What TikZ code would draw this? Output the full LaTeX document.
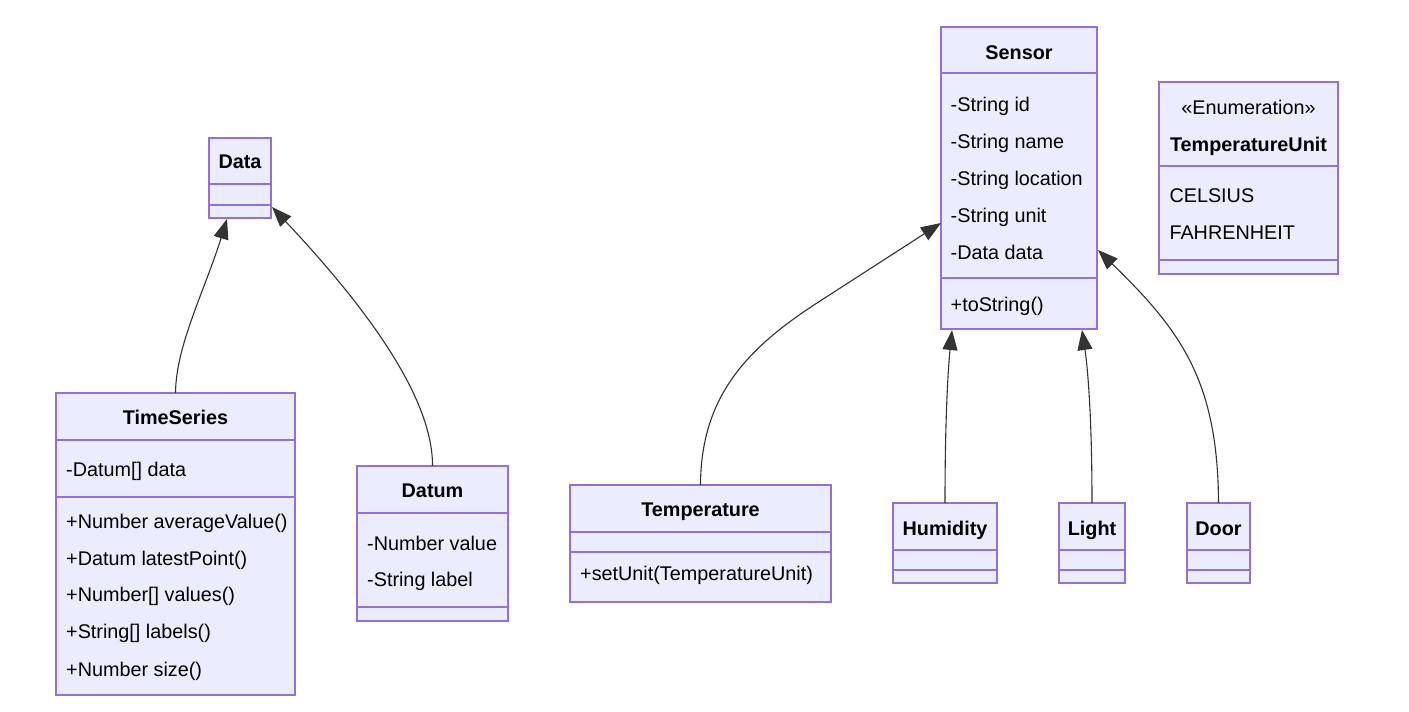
\documentclass[tikz,border=0pt]{standalone}
\usepackage{fontspec}
\setmainfont{Liberation Sans}
\usetikzlibrary{arrows.meta}
\definecolor{clsfill}{HTML}{ECECFF}
\definecolor{clsdraw}{HTML}{9370DB}
\definecolor{edgecol}{HTML}{333333}
\tikzset{
  cls/.style={draw=clsdraw, fill=clsfill, line width=1.3pt, inner sep=0pt, outer sep=0pt},
  sepline/.style={draw=clsdraw, line width=1.3pt},
  mem/.style={inner sep=0pt, anchor=base west, font=\fontsize{19.8}{24}\selectfont, text=black},
  ttl/.style={inner sep=0pt, anchor=base, font=\bfseries\fontsize{19.8}{24}\selectfont, text=black},
  inh/.style={draw=edgecol, line width=1.1pt, -{Triangle[length=20pt,width=15pt]}}
}
\begin{document}
\begin{tikzpicture}[x=1pt,y=-1pt]
\useasboundingbox[fill=white] (0,0) rectangle (1409,712);

% ---------- Data ----------
\node[cls, minimum width=62pt, minimum height=80pt] (data) at (240,178) {};
\draw[sepline] (209,184) -- (271,184);
\draw[sepline] (209,205) -- (271,205);
\node[ttl] (datat) at (240,168) {Data};

% ---------- TimeSeries ----------
\node[cls, minimum width=239pt, minimum height=302pt] (ts) at (175.5,544) {};
\draw[sepline] (56,440) -- (295,440);
\draw[sepline] (56,497) -- (295,497);
\node[ttl] (tst) at (175.5,424) {TimeSeries};
\node[mem] (ts1) at (66,476) {-Datum[] data};
\node[mem] (ts2) at (66,528.3) {+Number averageValue()};
\node[mem] (ts3) at (66,565) {+Datum latestPoint()};
\node[mem] (ts4) at (66,601.7) {+Number[] values()};
\node[mem] (ts5) at (66,638.3) {+String[] labels()};
\node[mem] (ts6) at (66,676) {+Number size()};

% ---------- Datum ----------
\node[cls, minimum width=151pt, minimum height=155pt] (datum) at (432.5,543.5) {};
\draw[sepline] (357,513) -- (508,513);
\draw[sepline] (357,607) -- (508,607);
\node[ttl] (datumt) at (432.5,497.3) {Datum};
\node[mem] (dm1) at (367,550) {-Number value};
\node[mem] (dm2) at (367,586.7) {-String label};

% ---------- Temperature ----------
\node[cls, minimum width=261pt, minimum height=117pt] (temp) at (700.5,543.5) {};
\draw[sepline] (570,532) -- (831,532);
\draw[sepline] (570,552) -- (831,552);
\node[ttl] (tempt) at (700.5,516.7) {Temperature};
\node[mem] (tm1) at (580,580) {+setUnit(TemperatureUnit)};

% ---------- Humidity ----------
\node[cls, minimum width=104pt, minimum height=80pt] (hum) at (945,543) {};
\draw[sepline] (893,550) -- (997,550);
\draw[sepline] (893,570) -- (997,570);
\node[ttl] (humt) at (945,535) {Humidity};

% ---------- Light ----------
\node[cls, minimum width=66pt, minimum height=80pt] (light) at (1092,543) {};
\draw[sepline] (1059,550) -- (1125,550);
\draw[sepline] (1059,570) -- (1125,570);
\node[ttl] (lightt) at (1092,535) {Light};

% ---------- Door ----------
\node[cls, minimum width=63pt, minimum height=80pt] (door) at (1218.5,543) {};
\draw[sepline] (1187,550) -- (1250,550);
\draw[sepline] (1187,570) -- (1250,570);
\node[ttl] (doort) at (1218.5,535) {Door};

% ---------- Sensor ----------
\node[cls, minimum width=156pt, minimum height=302pt] (sensor) at (1019,178) {};
\draw[sepline] (941,73) -- (1097,73);
\draw[sepline] (941,278) -- (1097,278);
\node[ttl] (sensort) at (1019,59.3) {Sensor};
\node[mem] (s1) at (950.5,111.5) {-String id};
\node[mem] (s2) at (950.5,148.3) {-String name};
\node[mem] (s3) at (950.5,185.5) {-String location};
\node[mem] (s4) at (950.5,222.3) {-String unit};
\node[mem] (s5) at (950.5,259) {-Data data};
\node[mem] (s6) at (950.5,311.5) {+toString()};

% ---------- TemperatureUnit ----------
\node[cls, minimum width=179pt, minimum height=192pt] (tu) at (1248.5,178) {};
\draw[sepline] (1159,166) -- (1338,166);
\draw[sepline] (1159,260) -- (1338,260);
\node[inner sep=0pt, anchor=base, font=\fontsize{19.8}{24}\selectfont] (tus) at (1248.5,114) {«Enumeration»};
\node[ttl] (tut) at (1248.5,151) {TemperatureUnit};
\node[mem] (tu1) at (1169.3,202.7) {CELSIUS};
\node[mem] (tu2) at (1169.3,239.3) {FAHRENHEIT};

% ---------- connector end points ----------
\coordinate (dataA) at (227,219);
\coordinate (dataB) at (272,207);
\coordinate (sensA) at (941,223);
\coordinate (sensB) at (952,330);
\coordinate (sensC) at (1082,330);
\coordinate (sensD) at (1098,250);

% ---------- inheritance ----------
\draw[inh] (ts.north) .. controls (176,345) and (205,290) .. (dataA);
\draw[inh] (datum.north) .. controls (433,390) and (350,290) .. (dataB);
\draw[inh] (temp.north) .. controls (701,400) and (742.6,351) .. (817,303) -- (sensA);
\draw[inh] (hum.north) .. controls (945,420) and (948,370) .. (sensB);
\draw[inh] (light.north) .. controls (1092,420) and (1088,370) .. (sensC);
\draw[inh] (door.north) .. controls (1218,380) and (1180,330) .. (sensD);
\end{tikzpicture}
\end{document}
